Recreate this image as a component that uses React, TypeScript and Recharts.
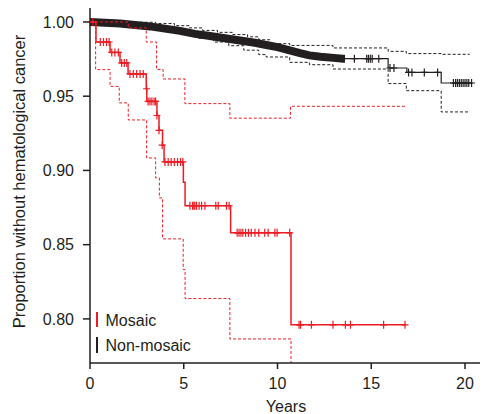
import React from 'react';
import { ComposedChart, Line, Scatter, XAxis, YAxis } from 'recharts';

// ---------- data ----------
const xTicks = [0, 5, 10, 15, 20];
const yTicks = [0.8, 0.85, 0.9, 0.95, 1.0];

// Mosaic KM estimate: [time, survival]
const mosaicSteps = [
  [0, 1], [0.32, 0.9865], [1.07, 0.9795], [1.6, 0.9724], [2.03, 0.965], [3.0, 0.955],
  [3.03, 0.9465], [3.57, 0.937], [3.68, 0.927], [3.87, 0.917], [3.95, 0.9057],
  [4.98, 0.892], [5.07, 0.8762], [7.5, 0.858], [10.72, 0.796], [16.85, 0.796],
];
const mosaicUpper = [
  [0, 1], [2.04, 0.996], [3.0, 0.9865], [3.55, 0.968], [3.9, 0.9616], [5.06, 0.945],
  [7.46, 0.9352], [10.69, 0.9432], [16.8, 0.9432],
];
const mosaicLower = [
  [0, 1], [0.3, 0.9679], [1.07, 0.9566], [1.56, 0.9455], [2.04, 0.934], [3.02, 0.9084],
  [3.5, 0.895], [3.7, 0.8815], [3.87, 0.8539], [4.97, 0.8332], [5.07, 0.8137],
  [7.46, 0.7865], [10.72, 0.74], [16.8, 0.74],
];
const mosaicCensor = [
  [0.15, 1], [0.55, 0.9865], [0.72, 0.9865], [0.88, 0.9865], [1.02, 0.9865],
  [1.16, 0.9795], [1.33, 0.9795], [1.51, 0.9795],
  [1.69, 0.9724], [1.83, 0.9724], [1.96, 0.9724],
  [2.13, 0.965], [2.31, 0.965], [2.49, 0.965], [2.67, 0.965], [2.84, 0.965],
  [3.02, 0.955],
  [3.1, 0.9465], [3.2, 0.9465], [3.3, 0.9465], [3.42, 0.9465], [3.5, 0.9465],
  [3.57, 0.937], [3.68, 0.927], [3.85, 0.917],
  [4.0, 0.9057], [4.17, 0.9057], [4.33, 0.9057], [4.5, 0.9057], [4.67, 0.9057], [4.83, 0.9057], [4.95, 0.9057],
  [5.33, 0.8762], [5.47, 0.8762], [5.54, 0.8762], [5.59, 0.8762], [5.68, 0.8762], [5.82, 0.8762],
  [5.95, 0.8762], [6.13, 0.8762], [6.71, 0.8762], [6.84, 0.8762], [7.28, 0.8762], [7.42, 0.8762],
  [7.85, 0.858], [7.95, 0.858], [8.05, 0.858], [8.15, 0.858], [8.3, 0.858], [8.45, 0.858],
  [8.6, 0.858], [8.8, 0.858], [9.0, 0.858], [9.32, 0.858], [9.5, 0.858], [9.86, 0.858],
  [9.98, 0.858], [10.65, 0.858],
  [11.15, 0.796], [11.23, 0.796], [11.81, 0.796], [12.96, 0.796], [13.62, 0.796],
  [13.89, 0.796], [15.66, 0.796], [16.8, 0.796],
];

// Non-mosaic KM estimate
const nonMosaicSteps = [
  [0, 1], [0.8, 0.9995], [1.6, 0.999], [2.4, 0.998], [3.2, 0.997], [4.0, 0.9955],
  [4.8, 0.994], [5.6, 0.992], [6.4, 0.9905], [7.2, 0.989], [8.0, 0.9875], [8.8, 0.986],
  [9.4, 0.9845], [10.0, 0.983], [10.6, 0.981], [11.2, 0.979], [11.7, 0.9775],
  [12.3, 0.9766], [13.0, 0.9758], [13.5, 0.9753], [15.9, 0.969], [16.9, 0.966],
  [18.73, 0.9589], [20.4, 0.9589],
];
// span of densely censored follow-up (drawn as a solid band of marks)
const nonMosaicDenseEnd = 13.6;
const nonMosaicUpper = [
  [0, 1], [2, 0.9998], [3.5, 0.999], [4.5, 0.9975], [5.3, 0.996], [6.0, 0.9943],
  [6.8, 0.993], [7.6, 0.9915], [8.4, 0.99], [9.0, 0.988], [9.6, 0.9854], [10.65, 0.9842],
  [12.96, 0.9825], [15.9, 0.9802], [16.87, 0.9787], [18.73, 0.9782], [20.25, 0.9782],
];
const nonMosaicLower = [
  [0, 1], [1, 0.9985], [2, 0.997], [3, 0.9955], [4, 0.994], [5, 0.9915], [5.8, 0.989],
  [6.6, 0.9865], [7.4, 0.984], [8.2, 0.981], [9.0, 0.978], [9.4, 0.9764], [10.65, 0.9728],
  [11.7, 0.9712], [12.96, 0.9683], [15.9, 0.9585], [16.87, 0.9537], [18.73, 0.9394],
  [20.25, 0.9394],
];
const nonMosaicCensor = [
  [14.1, 0.9753], [14.76, 0.9753], [14.85, 0.9753], [14.95, 0.9753], [15.05, 0.9753], [15.4, 0.9753],
  [16.0, 0.969], [16.21, 0.969],
  [16.99, 0.966], [17.17, 0.966], [17.83, 0.966], [18.54, 0.966],
  [19.38, 0.9589], [19.5, 0.9589], [19.6, 0.9589], [19.7, 0.9589], [19.8, 0.9589],
  [19.9, 0.9589], [20.0, 0.9589], [20.1, 0.9589], [20.2, 0.9589], [20.35, 0.9589],
];

const seriesNames = ['Mosaic', 'Non-mosaic'];

// ---------- helpers ----------
const toRows = (arr: number[][]) => arr.map(([t, v]) => ({ t, v }));
const RED = '#EC1C24';
const BLACK = '#231F20';
const FONT = '"Liberation Sans", Arial, Helvetica, sans-serif';

const makeCross = (color: string) => (p: any) => {
  const { cx, cy } = p;
  if (cx == null || cy == null) return <g />;
  return (
    <path
      d={`M${cx - 3.5},${cy}h7M${cx},${cy - 4}v8`}
      stroke={color}
      strokeWidth={1.2}
      fill="none"
    />
  );
};

export default function App() {
  const band = toRows(nonMosaicSteps.filter(([t]) => t <= nonMosaicDenseEnd)).concat(
    [{ t: nonMosaicDenseEnd, v: 0.9753 }]
  );
  return (
    <div style={{ position: 'absolute', left: 0, top: 0, width: 482, height: 414, background: '#fff' }}>
      <ComposedChart
        width={482}
        height={414}
        margin={{ top: 8, right: 2, bottom: 0, left: 0 }}
        style={{ fontFamily: FONT }}
      >
        <XAxis
          type="number"
          dataKey="t"
          domain={[0, 20.8]}
          ticks={xTicks}
          allowDataOverflow
          height={51}
          tickSize={6}
          tickMargin={9}
          axisLine={{ stroke: BLACK, strokeWidth: 1.5 }}
          tickLine={{ stroke: BLACK, strokeWidth: 1.5 }}
          tick={{ fill: BLACK, fontSize: 16, fontFamily: FONT }}
          label={{
            content: () => (
              <text x={286} y={412} textAnchor="middle" fontSize={16} fill={BLACK} fontFamily={FONT}>
                Years
              </text>
            ),
          }}
        />
        <YAxis
          type="number"
          domain={[0.7703, 1.0094]}
          ticks={yTicks}
          allowDataOverflow
          width={90}
          tickSize={7}
          tickMargin={9}
          tickFormatter={(v: number) => v.toFixed(2)}
          axisLine={{ stroke: BLACK, strokeWidth: 1.5 }}
          tickLine={{ stroke: BLACK, strokeWidth: 1.5 }}
          tick={{ fill: BLACK, fontSize: 16, fontFamily: FONT }}
          label={{
            content: () => (
              <text
                x={24.5}
                y={181.5}
                transform="rotate(-90, 24.5, 181.5)"
                textAnchor="middle"
                fontSize={16.5}
                fill={BLACK}
                fontFamily={FONT}
              >
                Proportion without hematological cancer
              </text>
            ),
          }}
        />

        {/* Non-mosaic */}
        <Line data={toRows(nonMosaicUpper)} dataKey="v" type="stepAfter" stroke={BLACK} strokeWidth={1}
          strokeDasharray="3 2" dot={false} activeDot={false} isAnimationActive={false} />
        <Line data={toRows(nonMosaicLower)} dataKey="v" type="stepAfter" stroke={BLACK} strokeWidth={1}
          strokeDasharray="3 2" dot={false} activeDot={false} isAnimationActive={false} />
        <Line data={band} dataKey="v" type="linear" stroke={BLACK} strokeWidth={8}
          strokeLinecap="butt" dot={false} activeDot={false} isAnimationActive={false} />
        <Line data={toRows(nonMosaicSteps)} dataKey="v" type="stepAfter" stroke={BLACK} strokeWidth={1.2}
          dot={false} activeDot={false} isAnimationActive={false} name={seriesNames[1]} />
        <Scatter data={toRows(nonMosaicCensor)} dataKey="v" shape={makeCross(BLACK)} isAnimationActive={false} />

        {/* Mosaic */}
        <Line data={toRows(mosaicUpper)} dataKey="v" type="stepAfter" stroke={RED} strokeWidth={1}
          strokeDasharray="3 2" dot={false} activeDot={false} isAnimationActive={false} />
        <Line data={toRows(mosaicLower)} dataKey="v" type="stepAfter" stroke={RED} strokeWidth={1}
          strokeDasharray="3 2" dot={false} activeDot={false} isAnimationActive={false} />
        <Line data={toRows(mosaicSteps)} dataKey="v" type="stepAfter" stroke={RED} strokeWidth={1.5}
          dot={false} activeDot={false} isAnimationActive={false} name={seriesNames[0]} />
        <Scatter data={toRows(mosaicCensor)} dataKey="v" shape={makeCross(RED)} isAnimationActive={false} />
      </ComposedChart>

      {/* legend */}
      <div style={{ position: 'absolute', left: 96, top: 312, width: 2, height: 15, background: RED }} />
      <div style={{ position: 'absolute', left: 105.5, top: 313.2, fontFamily: FONT, fontSize: 16, lineHeight: '16px', color: BLACK, whiteSpace: 'nowrap' }}>
        {seriesNames[0]}
      </div>
      <div style={{ position: 'absolute', left: 96, top: 337, width: 2, height: 16, background: BLACK }} />
      <div style={{ position: 'absolute', left: 105.5, top: 338.2, fontFamily: FONT, fontSize: 16, lineHeight: '16px', color: BLACK, whiteSpace: 'nowrap' }}>
        {seriesNames[1]}
      </div>
    </div>
  );
}
